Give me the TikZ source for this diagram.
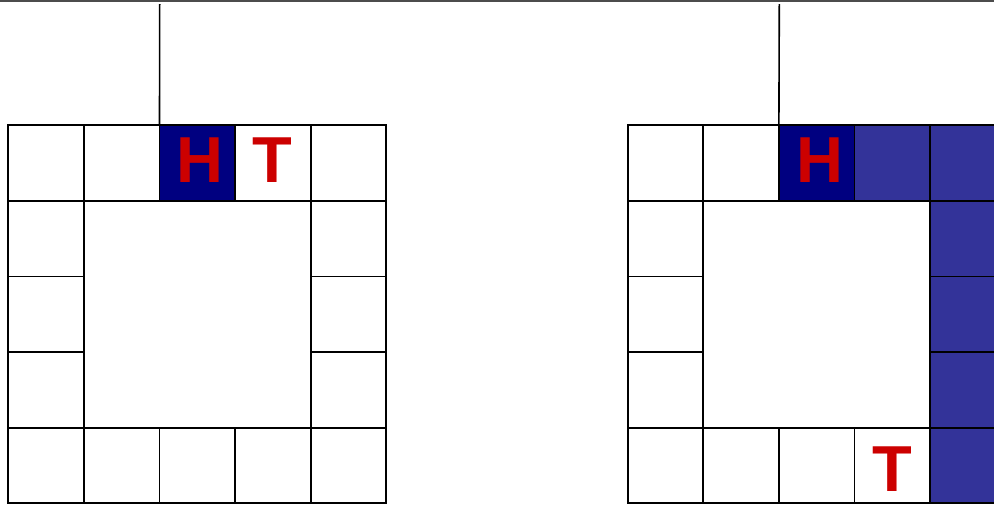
\documentclass[tikz,border=0pt]{standalone}
\usepackage{fontspec}
\setsansfont{Liberation Sans}
\definecolor{headblue}{HTML}{000080}
\definecolor{bodyblue}{HTML}{333399}
\definecolor{lettred}{HTML}{CC0000}
\begin{document}
\begin{tikzpicture}[x=1pt,y=-1pt,
  cell/.style={draw=black,line width=1.9pt,minimum size=75.6pt,inner sep=0pt,outer sep=0pt,anchor=north west},
  headcell/.style={cell,fill=headblue},
  bodycell/.style={cell,fill=bodyblue},
  letter/.style={text=lettred,inner sep=0pt,font=\sffamily\bfseries\fontsize{65}{65}\selectfont},
  wire/.style={draw=black,line width=1.6pt}]
\useasboundingbox (0,0) rectangle (994,504);
\draw[line width=1.8pt,black!70] (0,0.8) -- (994,0.8);
% left board
\foreach \c in {0,...,4}{
  \foreach \r in {0,4}{
    \node[cell] (L-\c-\r) at ({8.3+75.6*\c},{125.3+75.6*\r}) {};
  }
}
\foreach \r in {1,2,3}{
  \node[cell] (L-0-\r) at (8.3,{125.3+75.6*\r}) {};
  \node[cell] (L-4-\r) at ({8.3+75.6*4},{125.3+75.6*\r}) {};
}
\node[headcell] (LH) at ({8.3+75.6*2},125.3) {};
\node[letter] at ([xshift=3pt,yshift=3pt]LH.center) {H};
\node[cell] (LT) at ({8.3+75.6*3},125.3) {};
\node[letter] at ([xshift=-1pt,yshift=3pt]LT.center) {T};
% right board
\foreach \c in {0,...,4}{
  \foreach \r in {0,4}{
    \node[cell] (R-\c-\r) at ({627.7+75.6*\c},{125.3+75.6*\r}) {};
  }
}
\foreach \r in {1,2,3}{
  \node[cell] (R-0-\r) at (627.7,{125.3+75.6*\r}) {};
}
\node[headcell] (RH) at ({627.7+75.6*2},125.3) {};
\node[letter] at ([xshift=3pt,yshift=3pt]RH.center) {H};
\node[bodycell] (RB0) at ({627.7+75.6*3},125.3) {};
\foreach \r in {0,...,4}{
  \node[bodycell] (RB-\r) at ({627.7+75.6*4},{125.3+75.6*\r}) {};
}
\node[cell] (RT) at ({627.7+75.6*3},{125.3+75.6*4}) {};
\node[letter] at ([yshift=-4pt]RT.center) {T};
% wires
\coordinate (LW) at (159.7,4);
\coordinate (RW) at (779.3,4);
\draw[wire] (LW) -- (LH.north west);
\draw[wire] (RW) -- (RH.north west);
\end{tikzpicture}
\end{document}
